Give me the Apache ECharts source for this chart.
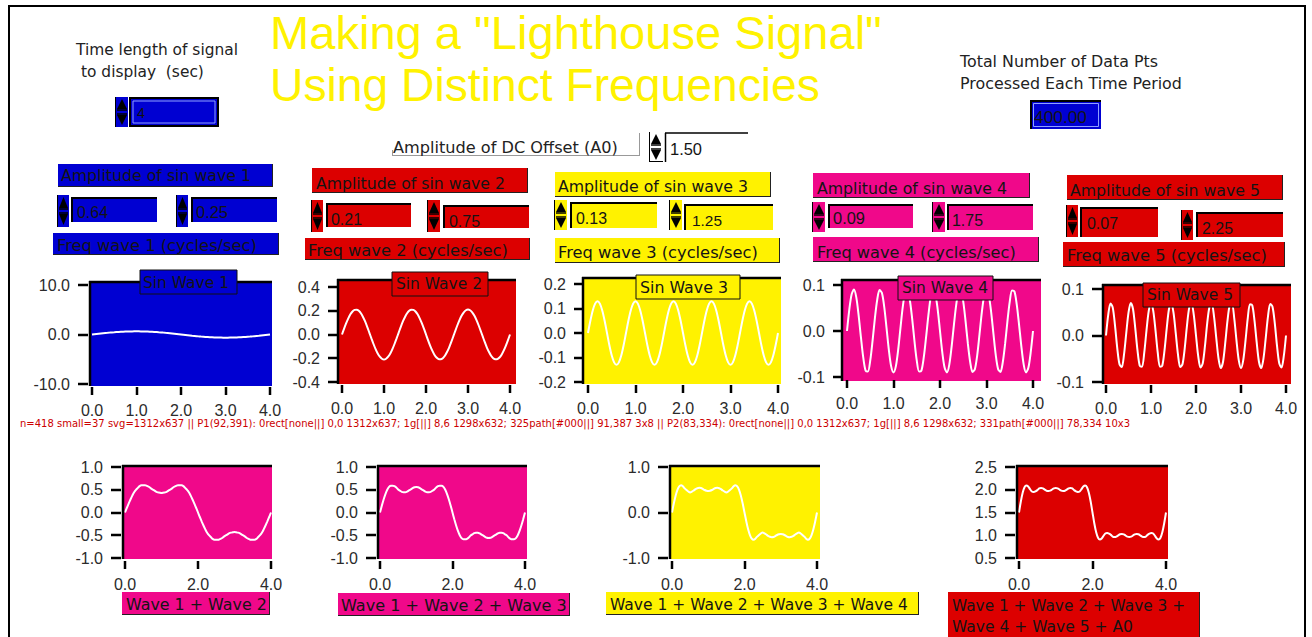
<!DOCTYPE html>
<html><head><meta charset="utf-8">
<script src="https://cdn.jsdelivr.net/npm/echarts@6/dist/echarts.min.js"></script>
<style>html,body{margin:0;padding:0;background:#fff;overflow:hidden}#c{width:1312px;height:637px}#dbg{position:absolute;left:20px;top:418px;width:1270px;font:10px "DejaVu Sans";color:#c00;line-height:11px;word-break:break-all}</style>
</head><body><div id="c"></div><div id="dbg"></div>
<script>
// ---------------- DATA ----------------
const TIME = [0,0.05,0.1,0.15,0.2,0.25,0.3,0.35,0.4,0.45,0.5,0.55,0.6,0.65,0.7,0.75,0.8,0.85,0.9,0.95,1,1.05,1.1,1.15,1.2,1.25,1.3,1.35,1.4,1.45,1.5,1.55,1.6,1.65,1.7,1.75,1.8,1.85,1.9,1.95,2,2.05,2.1,2.15,2.2,2.25,2.3,2.35,2.4,2.45,2.5,2.55,2.6,2.65,2.7,2.75,2.8,2.85,2.9,2.95,3,3.05,3.1,3.15,3.2,3.25,3.3,3.35,3.4,3.45,3.5,3.55,3.6,3.65,3.7,3.75,3.8,3.85,3.9,3.95,4];
const WAVE1 = [0,0.05,0.10,0.15,0.20,0.25,0.29,0.33,0.38,0.42,0.45,0.49,0.52,0.55,0.57,0.59,0.61,0.62,0.63,0.64,0.64,
0.64,0.63,0.62,0.61,0.59,0.57,0.55,0.52,0.49,0.45,0.42,0.38,0.33,0.29,0.25,0.20,0.15,0.10,0.05,0,
-0.05,-0.10,-0.15,-0.20,-0.25,-0.29,-0.33,-0.38,-0.42,-0.45,-0.49,-0.52,-0.55,-0.57,-0.59,-0.61,-0.62,-0.63,-0.64,-0.64,
-0.64,-0.63,-0.62,-0.61,-0.59,-0.57,-0.55,-0.52,-0.49,-0.45,-0.42,-0.38,-0.33,-0.29,-0.25,-0.20,-0.15,-0.10,-0.05,0];
const WAVE2 = [0,0.049,0.095,0.136,0.170,0.194,0.207,0.209,0.200,0.179,0.148,0.110,0.065,0.016,-0.033,-0.080,-0.123,-0.160,-0.187,-0.204,-0.210,
-0.204,-0.187,-0.160,-0.123,-0.080,-0.033,0.016,0.065,0.110,0.148,0.179,0.200,0.209,0.207,0.194,0.170,0.136,0.095,0.049,0,
-0.049,-0.095,-0.136,-0.170,-0.194,-0.207,-0.209,-0.200,-0.179,-0.148,-0.110,-0.065,-0.016,0.033,0.080,0.123,0.160,0.187,0.204,0.210,
0.204,0.187,0.160,0.123,0.080,0.033,-0.016,-0.065,-0.110,-0.148,-0.179,-0.200,-0.209,-0.207,-0.194,-0.170,-0.136,-0.095,-0.049,0];
const WAVE3 = [0,0.050,0.092,0.120,0.130,0.120,0.092,0.050,0,-0.050,-0.092,-0.120,-0.130,-0.120,-0.092,-0.050,
0,0.050,0.092,0.120,0.130,0.120,0.092,0.050,0,-0.050,-0.092,-0.120,-0.130,-0.120,-0.092,-0.050,
0,0.050,0.092,0.120,0.130,0.120,0.092,0.050,0,-0.050,-0.092,-0.120,-0.130,-0.120,-0.092,-0.050,
0,0.050,0.092,0.120,0.130,0.120,0.092,0.050,0,-0.050,-0.092,-0.120,-0.130,-0.120,-0.092,-0.050,
0,0.050,0.092,0.120,0.130,0.120,0.092,0.050,0,-0.050,-0.092,-0.120,-0.130,-0.120,-0.092,-0.050,0];
const WAVE4 = [0,0.047,0.080,0.090,0.073,0.034,-0.014,-0.058,-0.086,-0.088,-0.064,-0.021,0.028,0.068,0.089,0.083,0.053,0.007,-0.041,-0.077,-0.090,
-0.077,-0.041,0.007,0.053,0.083,0.089,0.068,0.028,-0.021,-0.064,-0.088,-0.086,-0.058,-0.014,0.034,0.073,0.090,0.080,0.047,0,
-0.047,-0.080,-0.090,-0.073,-0.034,0.014,0.058,0.086,0.088,0.064,0.021,-0.028,-0.068,-0.089,-0.083,-0.053,-0.007,0.041,0.077,0.090,
0.077,0.041,-0.007,-0.053,-0.083,-0.089,-0.068,-0.028,0.021,0.064,0.088,0.086,0.058,0.014,-0.034,-0.073,-0.090,-0.080,-0.047,0];
const WAVE5 = [0,0.045,0.069,0.060,0.022,-0.027,-0.062,-0.068,-0.041,0.005,0.049,0.070,0.057,0.016,-0.032,-0.065,-0.067,-0.037,0.011,0.053,0.070,
0.053,0.011,-0.037,-0.067,-0.065,-0.032,0.016,0.057,0.070,0.049,0.005,-0.041,-0.068,-0.062,-0.027,0.022,0.060,0.069,0.045,0,
-0.045,-0.069,-0.060,-0.022,0.027,0.062,0.068,0.041,-0.005,-0.049,-0.070,-0.057,-0.016,0.032,0.065,0.067,0.037,-0.011,-0.053,-0.070,
-0.053,-0.011,0.037,0.067,0.065,0.032,-0.016,-0.057,-0.070,-0.049,-0.005,0.041,0.068,0.062,0.027,-0.022,-0.060,-0.069,-0.045,0];
const DC_OFFSET = 1.5;
const AMP_VALUES = ['0.64','0.21','0.13','0.09','0.07'];
const FREQ_VALUES = ['0.25','0.75','1.25','1.75','2.25'];
const TIME_LENGTH = '4';
const TOTAL_POINTS = '400.00';
const DC_TEXT = '1.50';
const Y_RANGES = [[-10,10,10],[-0.4,0.4,0.2],[-0.2,0.2,0.1],[-0.1,0.1,0.1],[-0.1,0.1,0.1],[-1,1,0.5],[-1,1,0.5],[-1,1,1],[0.5,2.5,0.5]];
const X_INTERVALS = [1,1,1,1,1,2,2,2,2];
const SIN_TITLES = ['Sin Wave 1','Sin Wave 2','Sin Wave 3','Sin Wave 4','Sin Wave 5'];
const SUM_TITLES = ['Wave 1 + Wave 2','Wave 1 + Wave 2 + Wave 3','Wave 1 + Wave 2 + Wave 3 + Wave 4'];
const SUM4_TITLE = ['Wave 1 + Wave 2 + Wave 3 +','Wave 4 + Wave 5 + A0'];

const SUM12 = WAVE1.map((v,i)=>+(v+WAVE2[i]).toFixed(3));
const SUM123 = SUM12.map((v,i)=>+(v+WAVE3[i]).toFixed(3));
const SUM1234 = SUM123.map((v,i)=>+(v+WAVE4[i]).toFixed(3));
const SUMALL = SUM1234.map((v,i)=>+(v+WAVE5[i]+DC_OFFSET).toFixed(3));
const SERIES_DATA = [WAVE1,WAVE2,WAVE3,WAVE4,WAVE5,SUM12,SUM123,SUM1234,SUMALL];

// ---------------- STYLE / LAYOUT ----------------
const BLUE='#0000d2', RED='#dc0000', YEL='#fff200', PINK='#f0088a', TXT='#141414';
const LABF='"DejaVu Sans"', NUMF='"Liberation Sans"', TITF='"Liberation Sans"';
const BGS=[BLUE,RED,YEL,PINK,RED,PINK,PINK,YEL,RED];
const LAYOUT = [
 {fill:[90,282,182,104], grid:[92,285,178,99]},
 {fill:[338,280,178,104], grid:[342,287,168,95]},
 {fill:[583,278,198,106], grid:[588,284,190,98]},
 {fill:[842,280,199,101], grid:[847,285,186,92]},
 {fill:[1103,285,188,99], grid:[1106,289,180,93]},
 {fill:[123,466,149,93], grid:[125,467,146,91]},
 {fill:[378,466,149,93], grid:[380,467,145,91]},
 {fill:[670,466,150,93], grid:[672,467,145,91]},
 {fill:[1017,466,151,93], grid:[1019,467,147,91]}
];

const cv=document.createElement('canvas').getContext('2d');
function fit(text,fam,w){cv.font='100px '+fam;return 100*w/cv.measureText(text).width;}
const G=[];
function R(x,y,w,h,fill,z,stroke){G.push({type:'rect',shape:{x,y,width:w,height:h},style:{fill,stroke:stroke||null,lineWidth:1},z:z==null?1:z,silent:true});}
function L(x1,y1,x2,y2,stroke,lw,z){G.push({type:'line',shape:{x1,y1,x2,y2},style:{stroke,lineWidth:lw||1},z:z==null?3:z,silent:true});}
function P(points,fill,z){G.push({type:'polygon',shape:{points},style:{fill},z:z==null?3:z,silent:true});}
function T(text,x,cy,w,fam,fill,z){const fs=fit(text,fam,w);G.push({type:'text',style:{text,x,y:cy,font:fs.toFixed(2)+'px '+fam,fill:fill||TXT,textAlign:'left',textVerticalAlign:'middle',align:'left',verticalAlign:'middle'},z:z==null?4:z,silent:true});}
function spinner(x,y,w,h,bg){
  R(x,y,w,h,bg,1);
  const m=y+h/2;
  P([[x+1,m-3],[x+w/2,y+2],[x+w-1,m-3]],'#000',3);
  L(x+1,m-2,x+w-1,m-2,'#000',1.5);
  L(x+1,m+2,x+w-1,m+2,'#000',1.5);
  P([[x+1,m+3],[x+w/2,y+h-2],[x+w-1,m+3]],'#000',3);
  L(x-0.5,y,x-0.5,y+h,'#000',1);
}
function numBox(x,y,w,h,bg,text,tx,tw,cy){
  R(x,y,w,h,bg,1);
  L(x,y+1,x+w,y+1,'#000',2);
  L(x+1,y,x+1,y+h,'#000',2);
  T(text,tx,cy,tw,NUMF,TXT);
}
function labBox(x,y,w,h,bg,text,tx,tw,cy){
  R(x,y,w,h,bg,1);
  L(x+w-0.5,y,x+w-0.5,y+h,'#222',1);
  L(x,y+h-0.5,x+w,y+h-0.5,'#222',1);
  T(text,tx,cy,tw,LABF,TXT);
}

L(8,6,1306,6,'#000',2,0);
L(9,6,9,637,'#000',2,0);
L(1305,6,1305,637,'#000',2,0);

T('Making a "Lighthouse Signal"',270,32.5,612,TITF,'#fff200');
T('Using Distinct Frequencies',270,85,550,TITF,'#fff200');

T('Time length of signal',76,50,162,LABF,'#222');
T('to display  (sec)',81,71.5,123,LABF,'#222');
spinner(116,97,12,30,BLUE);
R(129,97,90,30,BLUE,1);
G.push({type:'rect',shape:{x:130,y:98,width:88,height:28},style:{fill:null,stroke:'#000',lineWidth:2},z:3,silent:true});
G.push({type:'rect',shape:{x:133,y:101,width:82,height:22},style:{fill:null,stroke:'#8fa0ff',lineWidth:1},z:3,silent:true});
T(TIME_LENGTH,137,113,8,NUMF,'#101010',6);

T('Total Number of Data Pts',960,61.5,198,LABF,'#222');
T('Processed Each Time Period',960,83.5,222,LABF,'#222');
R(1030,100,71,29,BLUE,1);
L(1030,101,1101,101,'#000',2);L(1031,100,1031,129,'#000',2);
G.push({type:'rect',shape:{x:1033.5,y:103.5,width:65,height:23},style:{fill:null,stroke:'#8fa0ff',lineWidth:1},z:3,silent:true});
T(TOTAL_POINTS,1034,117,53,NUMF,TXT);

L(392,155.5,640,155.5,'#999',1);L(639.5,133,639.5,156,'#999',1);L(392.5,150,392.5,156,'#999',1);
T('Amplitude of DC Offset (A0)',393,147,225,LABF,'#222');
spinner(650,132,12,30,'#fff');
L(650,161.5,663,161.5,'#000',1);
L(665,133,748,133,'#000',1.5);L(665.5,133,665.5,162,'#000',1.5);
T(DC_TEXT,670,148.5,32,NUMF,TXT);

const CTRL=[
 {bg:BLUE, amp:[58,164,215,23,61,190,175.5], sa:[58,195,11,32], ba:[71,197,86,25,77,31,212], sf:[177,195,11,32], bf:[191,197,86,25,196,32,212], fr:[53,233,226,22,57,200,245]},
 {bg:RED, amp:[312,168,216,25,316,189,183], sa:[312,200,11,32], ba:[326,203,85,24,331,31,219], sf:[428,200,12,32], bf:[443,205,86,23,449,31,221], fr:[305,238,225,22,308,200,250]},
 {bg:YEL, amp:[555,172,216,25,558,190,186], sa:[555,200,12,30], ba:[570,202,87,26,576,31,218], sf:[670,200,12,30], bf:[684,204,89,26,692,30,220], fr:[555,238,225,25,558,200,252]},
 {bg:PINK, amp:[813,173,217,25,817,190,188], sa:[813,202,12,30], ba:[828,204,85,24,833,32,218], sf:[933,202,12,30], bf:[947,204,86,26,952,31,220], fr:[813,237,226,25,817,199,252]},
 {bg:RED, amp:[1067,175,216,25,1070,190,190], sa:[1067,205,11,32], ba:[1080,207,78,30,1087,31,223], sf:[1182,210,11,30], bf:[1196,212,87,25,1202,31,228], fr:[1063,242,222,25,1067,200,255]}
];
CTRL.forEach((c,k)=>{
  const a=c.amp; labBox(a[0],a[1],a[2],a[3],c.bg,'Amplitude of sin wave '+(k+1),a[4],a[5],a[6]);
  const f=c.fr; labBox(f[0],f[1],f[2],f[3],c.bg,'Freq wave '+(k+1)+' (cycles/sec)',f[4],f[5],f[6]);
  spinner(...c.sa,c.bg); spinner(...c.sf,c.bg);
  const b=c.ba; numBox(b[0],b[1],b[2],b[3],c.bg,AMP_VALUES[k],b[4],b[5],b[6]);
  const d=c.bf; numBox(d[0],d[1],d[2],d[3],c.bg,FREQ_VALUES[k],d[4],d[5],d[6]);
});

LAYOUT.forEach((l,i)=>{
  const [x,y,w,h]=l.fill;
  R(x,y,w,h,BGS[i],0);
  L(x-1,y,x+w,y,'#000',2.5,3);
  L(x,y-1,x,y+h,'#000',2.5,3);
});

const SINBOX=[[140,270,97,24,143,86,283],[392,272,96,24,396,86,284],[636,275,104,24,640,88,287],[898,276,95,24,902,86,288],[1143,283,97,24,1147,86,295]];
SINBOX.forEach((s,i)=>{
  R(s[0],s[1],s[2],s[3],BGS[i],6,'#111');
  T(SIN_TITLES[i],s[4],s[6],s[5],LABF,TXT,7);
});
const SUMBOX=[[122,592,148,23,126,141,604.5],[338,593,232,23,341,226,605],[606,592,313,23,610,298,605]];
SUMBOX.forEach((s,i)=>{ labBox(s[0],s[1],s[2],s[3],BGS[5+i],SUM_TITLES[i],s[4],s[5],s[6]); });
R(948,592,252,46,RED,1);
L(1199.5,592,1199.5,637,'#222',1);
T(SUM4_TITLE[0],952,606,233,LABF,TXT);
T(SUM4_TITLE[1],952,627,181,LABF,TXT);

// ---------------- CHART ----------------
const grids=[],xAxes=[],yAxes=[],series=[];
LAYOUT.forEach((l,i)=>{
  const [gx,gy,gw,gh]=l.grid;
  grids.push({left:gx,top:gy,width:gw,height:gh,show:false});
  const hidden={show:false,onZero:false};
  const lab={fontFamily:'Liberation Sans',fontSize:16,color:'#2b2b2b',formatter:v=>(+v).toFixed(1)};
  xAxes.push({gridIndex:i,type:'value',position:'bottom',min:0,max:4,interval:X_INTERVALS[i],offset:3,
    axisLine:hidden,axisTick:{show:false},
    axisLabel:Object.assign({margin:15},lab),splitLine:{show:false}});
  const yr=Y_RANGES[i];
  yAxes.push({gridIndex:i,type:'value',position:'left',min:yr[0],max:yr[1],interval:yr[2],offset:4,
    axisLine:hidden,axisTick:{show:false},
    axisLabel:Object.assign({margin:18},lab),splitLine:{show:false}});
  series.push({type:'line',xAxisIndex:i,yAxisIndex:i,showSymbol:false,smooth:i===0?false:0.3,
    data:TIME.map((t,j)=>[t,SERIES_DATA[i][j]]),lineStyle:{color:'#fff',width:2},z:2,animation:false});
  // tick marks drawn through the axes' own coordinate system
  const tk=[];
  const xn=Math.round(4/X_INTERVALS[i]);
  for(let k=0;k<=xn;k++) tk.push([k*X_INTERVALS[i],yr[0],0]);
  const yn=Math.round((yr[1]-yr[0])/yr[2]);
  for(let k=0;k<=yn;k++) tk.push([0,yr[0]+k*yr[2],1]);
  series.push({type:'custom',xAxisIndex:i,yAxisIndex:i,clip:false,silent:true,z:10,animation:false,data:tk,
    renderItem:(p,api)=>{
      const c=api.coord([api.value(0),api.value(1)]);
      if(api.value(2)===0) return {type:'rect',shape:{x:Math.round(c[0])-1.25,y:c[1]+3,width:2.5,height:8},style:{fill:'#000'}};
      return {type:'rect',shape:{x:c[0]-14,y:Math.round(c[1])-1.25,width:10,height:2.5},style:{fill:'#000'}};
    }});
});

const chart=echarts.init(document.getElementById('c'),null,{renderer:'svg'});
chart.setOption({animation:false,grid:grids,xAxis:xAxes,yAxis:yAxes,series,graphic:{elements:G}});

// diagnostic: what is painted at a tick location
setTimeout(()=>{
  const svg=document.querySelector('#c svg');
  const all=[...svg.querySelectorAll('*')];
  const probe=(px,py)=>{const out=[];all.forEach((e,idx)=>{if(!e.getBoundingClientRect)return;const r=e.getBoundingClientRect();if(r.width>0&&r.left<=px&&r.right>=px&&r.top<=py&&r.bottom>=py)out.push(idx+e.tagName+'['+(e.getAttribute('fill')||'')+'|'+(e.getAttribute('stroke')||'')+'|'+(e.getAttribute('opacity')||'')+'] '+Math.round(r.left)+','+Math.round(r.top)+' '+Math.round(r.width)+'x'+Math.round(r.height));});return out.join('; ');};
  const small=all.filter(e=>{const r=e.getBoundingClientRect();return Math.abs(r.width-2.5)<0.8&&Math.abs(r.height-8)<0.8;}).length;
  document.getElementById('dbg').textContent='n='+all.length+' small='+small+' svg='+svg.getAttribute('width')+'x'+svg.getAttribute('height')+' || P1(92,391): '+probe(92,391)+' || P2(83,334): '+probe(83,334);
},300);
</script></body></html>
